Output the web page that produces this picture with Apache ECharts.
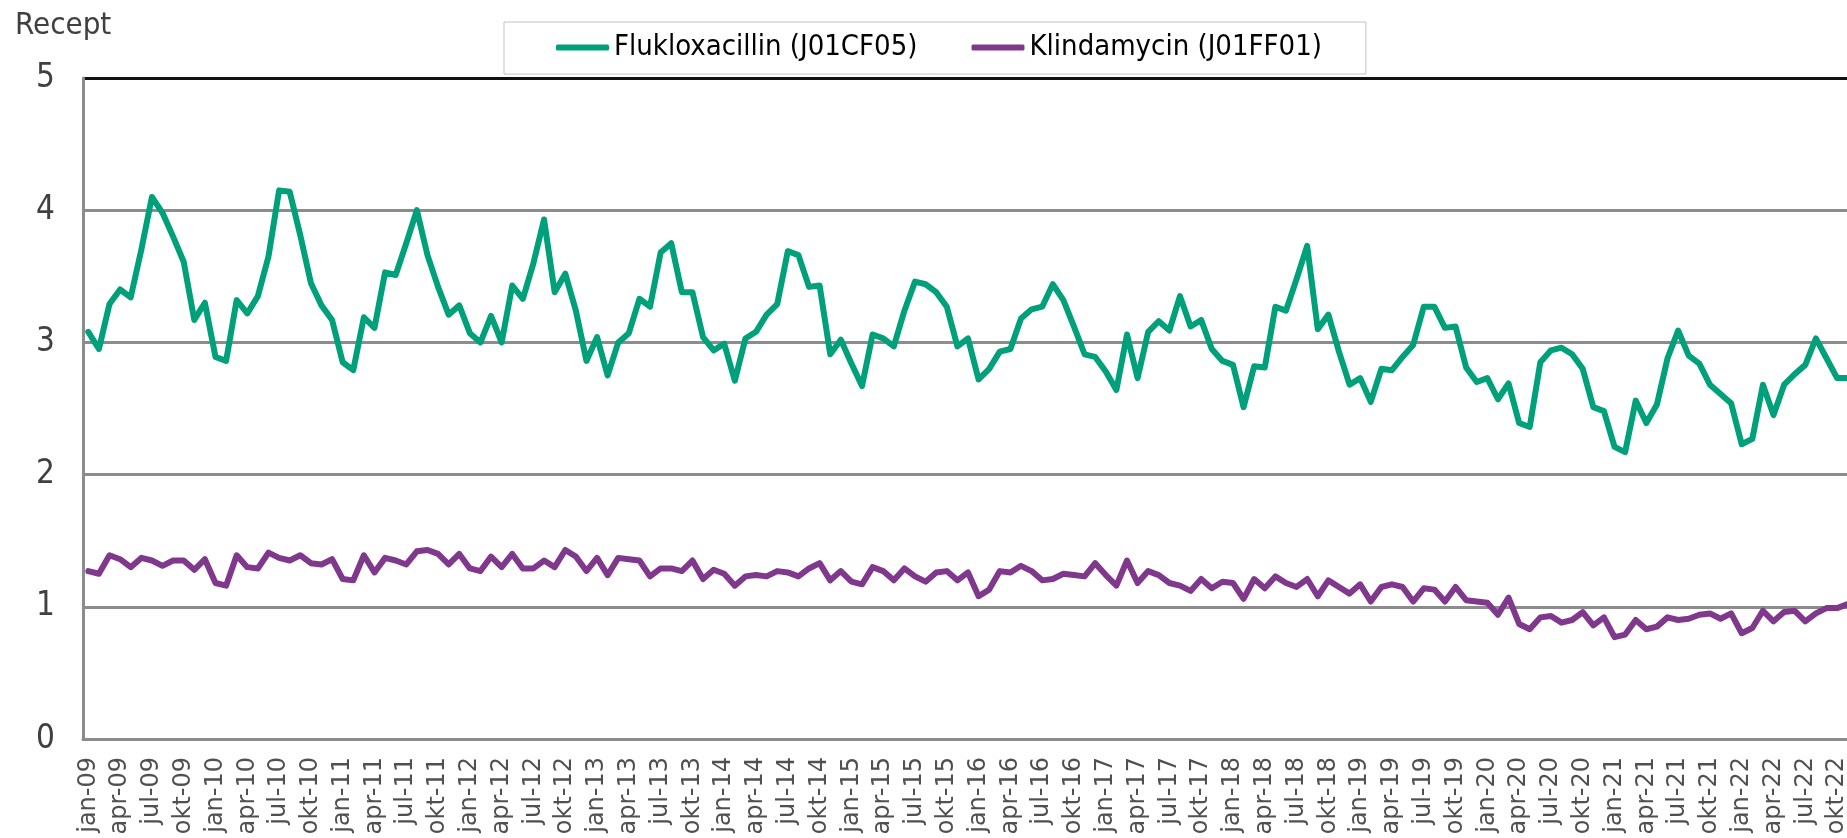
<!DOCTYPE html>
<html>
<head>
<meta charset="utf-8">
<script src="https://cdn.jsdelivr.net/npm/echarts@6/dist/echarts.min.js"></script>
<style>
html,body{margin:0;padding:0;background:#fff;overflow:hidden;width:1847px;height:838px;}
#chart{width:1860px;height:838px;}
</style>
</head>
<body>
<div id="chart"></div>
<script>
// Tick labels / categories
var monthNames = ['jan','feb','mar','apr','maj','jun','jul','aug','sep','okt','nov','dec'];
var years = ['09','10','11','12','13','14','15','16','17','18','19','20','21','22'];
var lastMonthIndex2022 = 10; // data shown through nov-22

var seriesNames = ['Flukloxacillin (J01CF05)', 'Klindamycin (J01FF01)'];
var yTicks = [0, 1, 2, 3, 4, 5];
var yAxisTitle = 'Recept';

// Flukloxacillin (J01CF05), monthly jan-09 .. nov-22
var flukloxacillin = [
  3.08, 2.95, 3.29, 3.40, 3.34, 3.70, 4.10, 3.98, 3.80, 3.61, 3.17, 3.30,
  2.89, 2.86, 3.32, 3.22, 3.35, 3.65, 4.15, 4.14, 3.81, 3.45, 3.28, 3.17,
  2.85, 2.79, 3.19, 3.11, 3.53, 3.51, 3.75, 4.00, 3.66, 3.42, 3.21, 3.28,
  3.07, 3.00, 3.20, 3.00, 3.43, 3.33, 3.60, 3.93, 3.38, 3.52, 3.24, 2.86,
  3.04, 2.75, 3.00, 3.07, 3.33, 3.27, 3.68, 3.75, 3.38, 3.38, 3.04, 2.94,
  2.99, 2.71, 3.03, 3.08, 3.21, 3.29, 3.69, 3.66, 3.42, 3.43, 2.91, 3.02,
  2.84, 2.67, 3.06, 3.03, 2.97, 3.24, 3.46, 3.44, 3.38, 3.27, 2.97, 3.03,
  2.72, 2.80, 2.93, 2.95, 3.18, 3.25, 3.27, 3.44, 3.32, 3.12, 2.91, 2.89,
  2.78, 2.64, 3.06, 2.73, 3.08, 3.16, 3.09, 3.35, 3.12, 3.17, 2.95, 2.86,
  2.83, 2.51, 2.82, 2.81, 3.27, 3.24, 3.48, 3.73, 3.10, 3.21, 2.93, 2.68,
  2.73, 2.55, 2.80, 2.79, 2.89, 2.98, 3.27, 3.27, 3.11, 3.12, 2.81, 2.70,
  2.73, 2.57, 2.69, 2.39, 2.36, 2.85, 2.94, 2.96, 2.91, 2.80, 2.51, 2.48,
  2.21, 2.17, 2.56, 2.39, 2.53, 2.88, 3.09, 2.90, 2.84, 2.68, 2.61, 2.54,
  2.23, 2.27, 2.68, 2.45, 2.68, 2.76, 2.83, 3.03, 2.88, 2.73, 2.73
];

// Klindamycin (J01FF01), monthly jan-09 .. nov-22
var klindamycin = [
  1.27, 1.25, 1.39, 1.36, 1.30, 1.37, 1.35, 1.31, 1.35, 1.35, 1.28, 1.36,
  1.18, 1.16, 1.39, 1.30, 1.29, 1.41, 1.37, 1.35, 1.39, 1.33, 1.32, 1.36,
  1.21, 1.20, 1.39, 1.26, 1.37, 1.35, 1.32, 1.42, 1.43, 1.40, 1.32, 1.40,
  1.29, 1.27, 1.38, 1.30, 1.40, 1.29, 1.29, 1.35, 1.30, 1.43, 1.38, 1.27,
  1.37, 1.24, 1.37, 1.36, 1.35, 1.23, 1.29, 1.29, 1.27, 1.35, 1.21, 1.28,
  1.25, 1.16, 1.23, 1.24, 1.23, 1.27, 1.26, 1.23, 1.29, 1.33, 1.20, 1.27,
  1.19, 1.17, 1.30, 1.27, 1.20, 1.29, 1.23, 1.19, 1.26, 1.27, 1.20, 1.26,
  1.08, 1.13, 1.27, 1.26, 1.31, 1.27, 1.20, 1.21, 1.25, 1.24, 1.23, 1.33,
  1.24, 1.16, 1.35, 1.18, 1.27, 1.24, 1.18, 1.16, 1.12, 1.21, 1.14, 1.19,
  1.18, 1.06, 1.21, 1.14, 1.23, 1.18, 1.15, 1.21, 1.08, 1.20, 1.15, 1.10,
  1.17, 1.04, 1.15, 1.17, 1.15, 1.04, 1.14, 1.13, 1.04, 1.15, 1.05, 1.04,
  1.03, 0.94, 1.07, 0.87, 0.83, 0.92, 0.93, 0.88, 0.90, 0.96, 0.86, 0.92,
  0.77, 0.79, 0.90, 0.83, 0.85, 0.92, 0.90, 0.91, 0.94, 0.95, 0.91, 0.95,
  0.80, 0.84, 0.97, 0.89, 0.96, 0.97, 0.89, 0.95, 0.99, 0.99, 1.02
];

var categories = [];
years.forEach(function (y, yi) {
  monthNames.forEach(function (m, mi) {
    if (yi === years.length - 1 && mi > lastMonthIndex2022) return;
    categories.push(m + '-' + y);
  });
});

var chart = echarts.init(document.getElementById('chart'), null, {renderer: 'canvas'});
var condensed = "'DejaVu Sans Condensed', 'DejaVu Sans', sans-serif";
var option = {
  animation: false,
  backgroundColor: '#ffffff',
  title: {
    text: yAxisTitle,
    left: 10,
    top: 5,
    textStyle: {fontFamily: condensed, fontSize: 31, fontWeight: 'normal', color: '#404040'}
  },
  legend: {
    data: [
      {name: seriesNames[0], icon: 'roundRect'},
      {name: seriesNames[1], icon: 'roundRect'}
    ],
    left: 504,
    top: 22,
    padding: [11, 44, 12, 52],
    itemGap: 54,
    itemWidth: 53,
    itemHeight: 6,
    borderColor: '#c4c4c4',
    borderWidth: 1,
    backgroundColor: '#ffffff',
    textStyle: {fontFamily: condensed, fontSize: 29, color: '#000000'}
  },
  grid: {left: 83, right: 7, top: 78, bottom: 99, containLabel: false, outerBoundsMode: 'none'},
  xAxis: {
    type: 'category',
    data: categories,
    boundaryGap: true,
    axisLine: {show: true, lineStyle: {color: '#8c8c8c', width: 3}},
    axisTick: {show: false},
    axisLabel: {
      interval: 2,
      rotate: 90,
      margin: 18,
      fontFamily: "'DejaVu Sans', sans-serif",
      fontSize: 24,
      color: '#505050'
    },
    splitLine: {show: false}
  },
  yAxis: {
    type: 'value',
    min: yTicks[0],
    max: yTicks[yTicks.length - 1],
    interval: 1,
    axisLine: {show: true, lineStyle: {color: '#8c8c8c', width: 3}},
    axisTick: {show: false},
    axisLabel: {
      margin: 28,
      fontFamily: condensed,
      fontSize: 33,
      color: '#404040'
    },
    splitLine: {
      show: true,
      lineStyle: {color: ['#8c8c8c', '#8c8c8c', '#8c8c8c', '#8c8c8c', '#8c8c8c', '#111111'], width: 3}
    }
  },
  series: [
    {
      name: seriesNames[0],
      type: 'line',
      data: flukloxacillin,
      showSymbol: false,
      symbol: 'none',
      color: '#00a07a',
      lineStyle: {width: 6, color: '#00a07a', join: 'round', cap: 'round'},
      z: 3
    },
    {
      name: seriesNames[1],
      type: 'line',
      data: klindamycin,
      showSymbol: false,
      symbol: 'none',
      color: '#80388c',
      lineStyle: {width: 6, color: '#80388c', join: 'round', cap: 'round'},
      z: 3
    }
  ]
};
chart.setOption(option);
</script>
</body>
</html>
